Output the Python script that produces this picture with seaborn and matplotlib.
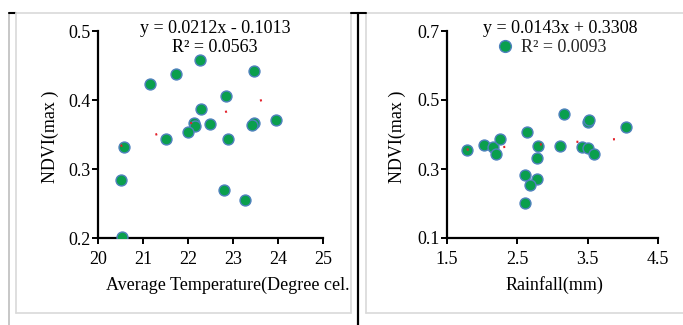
import matplotlib
matplotlib.use("Agg")
import matplotlib.pyplot as plt
import seaborn as sns
import numpy as np
import pandas as pd
from matplotlib.lines import Line2D

# ---- data ----
temp = [22.26, 23.46, 21.74, 21.15, 22.84, 22.28, 22.13, 22.16, 22.48, 21.99,
        21.50, 22.88, 23.46, 23.43, 23.96, 20.57, 20.50, 22.79, 23.26, 20.53]
ndvi_t = [0.458, 0.442, 0.438, 0.423, 0.406, 0.387, 0.367, 0.362, 0.365, 0.353,
          0.344, 0.343, 0.367, 0.364, 0.371, 0.332, 0.284, 0.270, 0.255, 0.201]

rain = [1.78, 2.03, 2.15, 2.20, 2.25, 2.64, 2.80, 2.78, 2.61, 2.78,
        2.68, 2.61, 3.17, 3.10, 3.42, 3.50, 3.59, 3.50, 3.52, 4.04]
ndvi_r = [0.355, 0.370, 0.363, 0.343, 0.387, 0.406, 0.366, 0.331, 0.282, 0.270,
          0.254, 0.202, 0.459, 0.366, 0.363, 0.361, 0.343, 0.436, 0.442, 0.421]

fit_t = (0.0212, -0.1013)
fit_r = (0.0143, 0.3308)
eq_t = ["y = 0.0212x - 0.1013", "R² = 0.0563"]
eq_r = ["y = 0.0143x + 0.3308", "R² = 0.0093"]

xticks_t = [20, 21, 22, 23, 24, 25]
yticks_t = [0.2, 0.3, 0.4, 0.5]
xticks_r = [1.5, 2.5, 3.5, 4.5]
yticks_r = [0.1, 0.3, 0.5, 0.7]

df_t = pd.DataFrame({"x": temp, "y": ndvi_t})
df_r = pd.DataFrame({"x": rain, "y": ndvi_r})

# ---- style ----
sns.set_theme(style="white")
plt.rcParams["font.family"] = ["Liberation Serif", "DejaVu Serif"]
plt.rcParams["lines.scale_dashes"] = False
FS = 13

W, H = 683, 325
fig = plt.figure(figsize=(W / 100, H / 100), dpi=100)

def fx(px):
    return px / W

def fy(py):
    return 1 - py / H

# page / table decorations
gray = "#d9d9d9"
fig.add_artist(Line2D([fx(9), fx(9)], [fy(13), fy(325)], color="#bdbdbd", lw=1.2))
fig.add_artist(Line2D([fx(9), fx(16)], [fy(13), fy(13)], color="black", lw=1.5))
fig.add_artist(Line2D([fx(16), fx(683)], [fy(13), fy(13)], color=gray, lw=1.2))
fig.add_artist(Line2D([fx(16), fx(16)], [fy(13), fy(313)], color=gray, lw=1.2))
fig.add_artist(Line2D([fx(16), fx(351)], [fy(313), fy(313)], color=gray, lw=1.2))
fig.add_artist(Line2D([fx(351), fx(351)], [fy(13), fy(313)], color=gray, lw=1.2))
fig.add_artist(Line2D([fx(366), fx(366)], [fy(13), fy(313)], color=gray, lw=1.2))
fig.add_artist(Line2D([fx(366), fx(683)], [fy(313), fy(313)], color=gray, lw=1.2))
fig.add_artist(Line2D([fx(351), fx(366)], [fy(13), fy(13)], color="black", lw=1.5))
fig.add_artist(Line2D([fx(358), fx(358)], [fy(13), fy(325)], color="black", lw=1.6))

ax1 = fig.add_axes([fx(98), fy(238), (323 - 98) / W, (238 - 31) / H])
ax2 = fig.add_axes([fx(447), fy(238), (658 - 447) / W, (238 - 31) / H])

green = "#0a9f4d"
edge = "#4f81bd"

def panel(ax, df, fit, xticks, yticks, xlabel, xlab_x, ylab_x):
    sc = sns.scatterplot(data=df, x="x", y="y", ax=ax, s=62, color=green,
                         edgecolor=edge, linewidth=1.0, zorder=3)
    xs = np.array([df["x"].min(), df["x"].max()])
    ax.plot(xs, fit[0] * xs + fit[1], color="#e3202a", lw=1.6,
            dashes=(1.4, 25.0), solid_capstyle="butt", dash_capstyle="butt", zorder=4)
    ax.set_xlim(xticks[0], xticks[-1])
    ax.set_ylim(yticks[0], yticks[-1])
    ax.set_xticks(xticks)
    ax.set_yticks(yticks)
    ax.set_xticklabels([f"{v:g}" for v in xticks])
    ax.set_yticklabels([f"{v:g}" for v in yticks])
    for s in ["top", "right"]:
        ax.spines[s].set_visible(False)
    for s in ["left", "bottom"]:
        ax.spines[s].set_color("black")
        ax.spines[s].set_linewidth(1.6)
    ax.tick_params(axis="both", direction="out", length=4, width=1.4,
                   colors="black", labelsize=FS, bottom=True, left=True)
    ax.tick_params(axis="x", pad=5)
    ax.tick_params(axis="y", pad=1.5)
    ax.set_xlabel(xlabel, fontsize=FS, color="black")
    ax.set_ylabel("NDVI(max )", fontsize=FS, color="black")
    ax.xaxis.set_label_coords(xlab_x, -0.227)
    ax.xaxis.label.set_va("center")
    ax.yaxis.set_label_coords(ylab_x, 0.488)
    ax.yaxis.label.set_va("center")
    ax.patch.set_alpha(0)
    return sc

panel(ax1, df_t, fit_t, xticks_t, yticks_t, "Average Temperature(Degree cel.",
      0.576, -0.21)
panel(ax2, df_r, fit_r, xticks_r, yticks_r, "Rainfall(mm)", 0.507, -0.235)

ax1.text(0.52, 1.014, eq_t[0], transform=ax1.transAxes, ha="center", va="center",
         fontsize=FS, color="black")
ax1.text(0.52, 0.918, eq_t[1], transform=ax1.transAxes, ha="center", va="center",
         fontsize=FS, color="black")
ax2.text(0.536, 1.014, eq_r[0], transform=ax2.transAxes, ha="center", va="center",
         fontsize=FS, color="black")
handle = Line2D([], [], marker="o", linestyle="", markersize=8.5,
                markerfacecolor=green, markeredgecolor=edge, markeredgewidth=1.0)
leg = ax2.legend([handle], [eq_r[1]], loc="center", bbox_to_anchor=(0.50, 0.918),
                 frameon=False, fontsize=FS, handlelength=0.8, handletextpad=0.5,
                 borderpad=0, borderaxespad=0)

fig.savefig("out.png", dpi=100)
